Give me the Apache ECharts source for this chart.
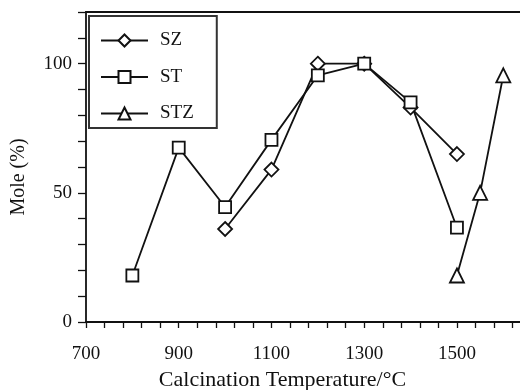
<!DOCTYPE html>
<html>
<head>
<meta charset="utf-8">
<script src="https://cdn.jsdelivr.net/npm/echarts@6/dist/echarts.min.js"></script>
<style>html,body{margin:0;padding:0;background:#fff}#c{width:520px;height:390px}</style>
</head>
<body>
<div id="c"></div>
<script>
// Data
var szTemps = [1000, 1100, 1200, 1300, 1400, 1500];
var szValues = [36, 59, 100, 100, 83, 65];
var stTemps = [800, 900, 1000, 1100, 1200, 1300, 1400, 1500];
var stValues = [18, 67.5, 44.5, 70.5, 95.5, 100, 85, 36.5];
var stzTemps = [1500, 1550, 1600];
var stzValues = [18, 50, 95.5];
var seriesNames = ['SZ', 'ST', 'STZ'];
var xTickLabels = [700, 900, 1100, 1300, 1500];
var yTickLabels = [0, 50, 100];

function pairs(xs, ys) { return xs.map(function (x, i) { return [x, ys[i]]; }); }

var font = 'Liberation Serif';
var chart = echarts.init(document.getElementById('c'), null, { renderer: 'canvas' });

function mkSeries(name, xs, ys, symbol, size) {
  return {
    name: name, type: 'line', data: pairs(xs, ys),
    symbol: symbol, symbolSize: size, showAllSymbol: true,
    lineStyle: { color: '#111', width: 1.8 },
    itemStyle: { color: '#fff', borderColor: '#111', borderWidth: 1.8 },
    emphasis: { disabled: true }, animation: false, z: 3
  };
}

chart.setOption({
  animation: false,
  backgroundColor: '#fff',
  grid: { left: 86, right: 0, top: 12, bottom: 68, containLabel: false, outerBoundsMode: 'none' },
  legend: {
    data: seriesNames,
    orient: 'vertical', left: 89, top: 16,
    itemWidth: 47, itemHeight: 15, itemGap: 17.5,
    padding: [15, 23, 5, 11],
    borderColor: '#333', borderWidth: 2,
    textStyle: { fontFamily: font, fontSize: 19, color: '#111', padding: [0, 0, 0, 7] }
  },
  xAxis: [{
    type: 'value', min: 700, max: 1636, interval: 40,
    position: 'bottom',
    name: 'Calcination Temperature/\u00B0C', nameLocation: 'middle', nameGap: 45,
    nameTextStyle: { fontFamily: font, fontSize: 22, color: '#111', padding: [0, 41, 0, 0] },
    axisLine: { show: true, lineStyle: { color: '#111', width: 1.8 } },
    axisTick: { show: true, inside: false, length: 6, lineStyle: { color: '#111', width: 1.3 } },
    axisLabel: {
      margin: 23, fontFamily: font, fontSize: 19, color: '#111',
      showMaxLabel: false,
      formatter: function (v) { return xTickLabels.indexOf(v) >= 0 ? String(v) : ''; }
    },
    splitLine: { show: false }
  }, {
    type: 'value', min: 700, max: 1636, position: 'top',
    axisLine: { show: true, onZero: false, lineStyle: { color: '#111', width: 2 } },
    axisTick: { show: false }, axisLabel: { show: false }, splitLine: { show: false }
  }],
  yAxis: {
    type: 'value', min: 0, max: 120, interval: 10,
    name: 'Mole (%)', nameLocation: 'middle', nameGap: 57, nameRotate: 90,
    nameTextStyle: { fontFamily: font, fontSize: 20, color: '#111', padding: [0, 20, 0, 0] },
    axisLine: { show: true, lineStyle: { color: '#111', width: 1.8 } },
    axisTick: { show: true, inside: false, length: 8, lineStyle: { color: '#111', width: 1.3 } },
    axisLabel: {
      margin: 14, fontFamily: font, fontSize: 19, color: '#111',
      formatter: function (v) { return yTickLabels.indexOf(v) >= 0 ? String(v) : ''; }
    },
    splitLine: { show: false }
  },
  series: [
    mkSeries(seriesNames[0], szTemps, szValues, 'diamond', 14),
    mkSeries(seriesNames[1], stTemps, stValues, 'rect', 12),
    mkSeries(seriesNames[2], stzTemps, stzValues, 'triangle', 14)
  ]
});
</script>
</body>
</html>
